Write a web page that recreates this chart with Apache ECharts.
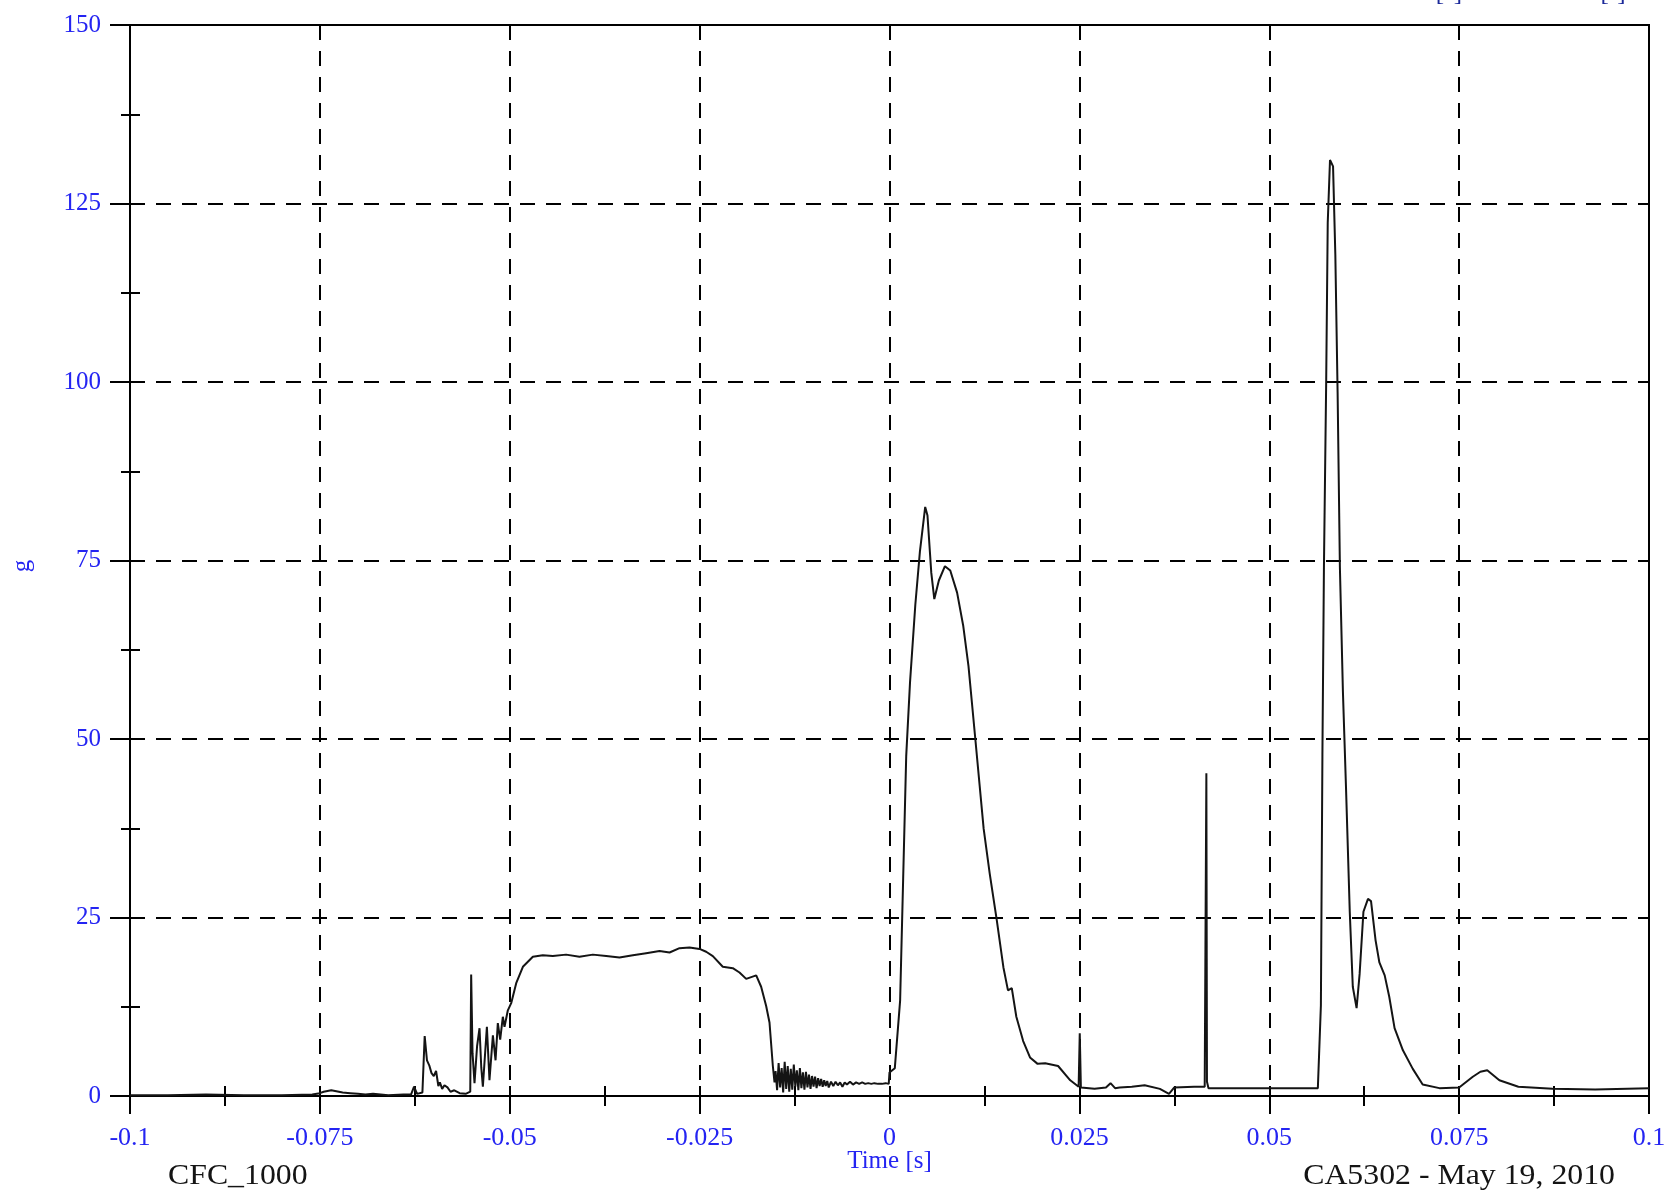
<!DOCTYPE html>
<html>
<head>
<meta charset="utf-8">
<script src="https://cdn.jsdelivr.net/npm/echarts@6/dist/echarts.min.js"></script>
<style>
html,body{margin:0;padding:0;background:#fff;}
#chart{width:1669px;height:1197px;}
</style>
</head>
<body>
<div id="chart"></div>
<script>
// ---- Data (time in s, acceleration in g) ----
const timeS = [
  -0.1, -0.095, -0.09, -0.085, -0.08, -0.076, -0.075, -0.0745, -0.0735, -0.073, -0.072, -0.071, -0.07, -0.069, -0.068, -0.066, -0.064, -0.063,
  -0.0626, -0.0622, -0.0615, -0.0612, -0.0609, -0.0606, -0.0603, -0.06, -0.0597, -0.0594, -0.0592, -0.0589, -0.0586, -0.0582, -0.0578, -0.0573, -0.0566, -0.0558,
  -0.0552, -0.05508, -0.0549, -0.05464, -0.0543, -0.05398, -0.05375, -0.05354, -0.05301, -0.05267, -0.05222, -0.05187, -0.05157, -0.05126, -0.05091, -0.05069, -0.05025, -0.04981,
  -0.04915, -0.04827, -0.04696, -0.04565, -0.04433, -0.04258, -0.04082, -0.03906, -0.0373, -0.03555, -0.03379, -0.03204, -0.03028, -0.02896, -0.02765, -0.02633, -0.02501, -0.02414,
  -0.02326, -0.02195, -0.02063, -0.01975, -0.01887, -0.01755, -0.0169, -0.01624, -0.0158, -0.01536, -0.01514,
  -0.015, -0.0148, -0.0146, -0.0144, -0.0142, -0.014, -0.0138, -0.0136, -0.0134, -0.0132, -0.013, -0.0128, -0.0126, -0.0124, -0.0122, -0.012, -0.0118, -0.0116, -0.0114, -0.0112,
  -0.011, -0.0108, -0.0106, -0.0104, -0.0102, -0.01, -0.0098, -0.0096, -0.0094, -0.0092, -0.009, -0.0088, -0.0086, -0.0084, -0.0082, -0.008, -0.0077, -0.0074, -0.0071, -0.0068,
  -0.0065, -0.0062, -0.0059, -0.0056, -0.0052, -0.0048, -0.0044, -0.004, -0.0036, -0.0032, -0.0028, -0.0024, -0.002, -0.0015, -0.001, -0.0005, -0.0001,
  0.0, 0.0007, 0.0014, 0.0018, 0.0022, 0.0027, 0.0034, 0.004, 0.0047, 0.005, 0.0055, 0.0059, 0.0065, 0.0073, 0.008, 0.0089, 0.0097, 0.0104, 0.0113, 0.0124, 0.0132, 0.0141,
  0.015, 0.0156, 0.0161, 0.0167, 0.0176, 0.0185, 0.0195, 0.0205, 0.0222, 0.0238, 0.0249, 0.02505, 0.0252, 0.027, 0.0285, 0.0291, 0.0297, 0.0303, 0.0319, 0.0336, 0.0356, 0.0368,
  0.0375, 0.0401, 0.0415, 0.04172, 0.0418, 0.042, 0.045, 0.05, 0.054, 0.0564, 0.0566, 0.0568, 0.057, 0.0572, 0.0575, 0.0577, 0.058, 0.0584, 0.0587, 0.059, 0.0593, 0.0597,
  0.0601, 0.0606, 0.061, 0.0615, 0.0619, 0.0624, 0.063, 0.0634, 0.064, 0.0645, 0.0652, 0.0658, 0.0665, 0.0676, 0.0689, 0.0702, 0.0724, 0.075, 0.0768, 0.0778, 0.0787, 0.0803,
  0.0828, 0.0873, 0.0929, 0.1
];
const accelG = [
  0.1, 0.1, 0.2, 0.1, 0.1, 0.2, 0.4, 0.6, 0.8, 0.7, 0.5, 0.4, 0.3, 0.2, 0.3, 0.1, 0.2, 0.2,
  1.3, 0.3, 0.5, 8.4, 5.0, 4.3, 3.2, 2.8, 3.5, 1.4, 1.9, 1.0, 1.5, 1.2, 0.6, 0.8, 0.4, 0.3,
  0.6, 17.0, 6.0, 1.8, 7.0, 9.5, 4.0, 1.3, 9.7, 2.2, 8.5, 5.0, 10.2, 7.9, 11.1, 9.7, 12.0, 13.0,
  15.8, 18.1, 19.5, 19.7, 19.6, 19.8, 19.5, 19.8, 19.6, 19.4, 19.7, 20.0, 20.3, 20.1, 20.7, 20.8, 20.6, 20.2,
  19.6, 18.1, 17.9, 17.3, 16.4, 16.9, 15.3, 12.6, 10.3, 4.2, 1.9,
  3.5, 0.8, 4.6, 1.2, 3.9, 0.5, 4.8, 1.0, 4.2, 0.6, 3.8, 0.9, 4.4, 1.3, 3.6, 0.8, 3.9, 1.1, 3.3, 0.9,
  3.4, 1.2, 3.0, 1.0, 2.8, 1.3, 2.7, 1.1, 2.5, 1.4, 2.4, 1.3, 2.2, 1.4, 2.1, 1.2, 2.0, 1.4, 2.0, 1.5,
  1.9, 1.3, 1.9, 1.6, 2.0, 1.6, 1.9, 1.7, 1.9, 1.7, 1.8, 1.7, 1.8, 1.7, 1.7, 1.8, 1.7,
  3.3, 3.9, 13.4, 30.5, 47.6, 57.9, 68.8, 76.2, 82.5, 81.3, 73.3, 69.6, 72.2, 74.2, 73.6, 70.5, 65.9, 60.2, 50.0, 37.4, 31.1, 24.8,
  18.0, 14.8, 15.1, 11.1, 7.7, 5.4, 4.5, 4.6, 4.2, 2.2, 1.3, 8.8, 1.2, 1.0, 1.2, 1.8, 1.1, 1.2, 1.3, 1.5, 1.0, 0.3,
  1.2, 1.3, 1.3, 45.2, 2.0, 1.1, 1.1, 1.1, 1.1, 1.1, 1.3, 12.7, 47.8, 74.1, 100.4, 122.3, 131.1, 130.2, 117.9, 98.6, 74.1, 56.6,
  43.4, 25.8, 15.3, 12.3, 17.1, 25.8, 27.6, 27.3, 21.8, 18.7, 16.9, 13.9, 9.5, 6.4, 3.8, 1.6, 1.1, 1.2, 2.7, 3.4, 3.6, 2.2,
  1.3, 1.0, 0.9, 1.1
];
const xTickValues = [-0.1, -0.075, -0.05, -0.025, 0, 0.025, 0.05, 0.075, 0.1];
const xTickLabels = ['-0.1', '-0.075', '-0.05', '-0.025', '0', '0.025', '0.05', '0.075', '0.1'];
const yTickLabels = ['0', '25', '50', '75', '100', '125', '150'];

const seriesData = timeS.map((t, i) => [t, accelG[i]]);

const BLUE = '#2424f2';
const SERIF = "'Liberation Serif', 'DejaVu Serif', serif";

function xLabel(v) {
  for (let i = 0; i < xTickValues.length; i++) {
    if (Math.abs(v - xTickValues[i]) < 1e-9) return xTickLabels[i];
  }
  return '';
}
function yLabel(v) {
  const idx = Math.round(v / 25);
  return yTickLabels[idx] !== undefined ? yTickLabels[idx] : '';
}

const chart = echarts.init(document.getElementById('chart'), null, {renderer: 'canvas'});
const tickLine = {color: '#000', width: 2};
chart.setOption({
  animation: false,
  backgroundColor: '#fff',
  grid: {left: 130, right: 20, top: 25, bottom: 101, show: true, borderColor: '#000', borderWidth: 2, backgroundColor: 'transparent'},
  xAxis: [{
    type: 'value', min: -0.1, max: 0.1, interval: 0.025, position: 'bottom',
    name: 'Time [s]', nameLocation: 'middle', nameGap: 53, nameMoveOverlap: false,
    nameTextStyle: {color: BLUE, fontFamily: SERIF, fontSize: 25},
    axisLine: {show: true, onZero: false, lineStyle: {color: '#000', width: 2}},
    axisTick: {show: true, inside: false, length: 18, lineStyle: tickLine},
    minorTick: {show: true, splitNumber: 2, length: 10, lineStyle: tickLine},
    axisLabel: {color: BLUE, fontFamily: SERIF, fontSize: 26, margin: 29, formatter: xLabel, showMinLabel: true, showMaxLabel: true, hideOverlap: false},
    splitLine: {show: true, lineStyle: {color: '#000', width: 2, type: [15, 11]}}
  }, {
    type: 'value', min: -0.1, max: 0.1, interval: 0.025, position: 'bottom',
    axisLine: {show: false, onZero: false},
    axisTick: {show: true, inside: true, length: 10, lineStyle: tickLine},
    minorTick: {show: true, splitNumber: 2, length: 10, lineStyle: tickLine},
    axisLabel: {show: false},
    splitLine: {show: false}
  }],
  yAxis: [{
    type: 'value', min: 0, max: 150, interval: 25, position: 'left',
    axisLine: {show: true, onZero: false, lineStyle: {color: '#000', width: 2}},
    axisTick: {show: true, inside: false, length: 20, lineStyle: tickLine},
    minorTick: {show: true, splitNumber: 2, length: 9, lineStyle: tickLine},
    axisLabel: {color: BLUE, fontFamily: SERIF, fontSize: 25, margin: 29, formatter: yLabel, showMinLabel: true, showMaxLabel: true, hideOverlap: false},
    splitLine: {show: true, lineStyle: {color: '#000', width: 2, type: [15, 11]}}
  }, {
    type: 'value', min: 0, max: 150, interval: 25, position: 'left',
    axisLine: {show: false, onZero: false},
    axisTick: {show: true, inside: true, length: 10, lineStyle: tickLine},
    minorTick: {show: true, splitNumber: 2, length: 10, lineStyle: tickLine},
    axisLabel: {show: false},
    splitLine: {show: false}
  }],
  series: [{
    type: 'line', xAxisIndex: 0, yAxisIndex: 0,
    data: seriesData, showSymbol: false, symbol: 'none', sampling: null,
    lineStyle: {color: '#141414', width: 2},
    z: 5
  }],
  graphic: [
    {type: 'text', x: 22, y: 566, rotation: Math.PI / 2, style: {text: 'g', fill: BLUE, font: '25px ' + SERIF, align: 'center', verticalAlign: 'middle'}},
    {type: 'text', x: 168, y: 1176, scaleX: 1.06, style: {text: 'CFC_1000', fill: '#141414', font: '30px ' + SERIF, align: 'left', verticalAlign: 'middle'}},
    {type: 'text', x: 1615, y: 1176, scaleX: 1.06, style: {text: 'CA5302 - May 19, 2010', fill: '#141414', font: '30px ' + SERIF, align: 'right', verticalAlign: 'middle'}},
    {type: 'text', x: 1449, y: 6, style: {text: '[s]', fill: '#1c2a9a', font: '25px ' + SERIF, align: 'center', verticalAlign: 'bottom'}},
    {type: 'text', x: 1613, y: 6, style: {text: '[-]', fill: '#1c2a9a', font: '25px ' + SERIF, align: 'center', verticalAlign: 'bottom'}}
  ]
});
</script>
</body>
</html>
